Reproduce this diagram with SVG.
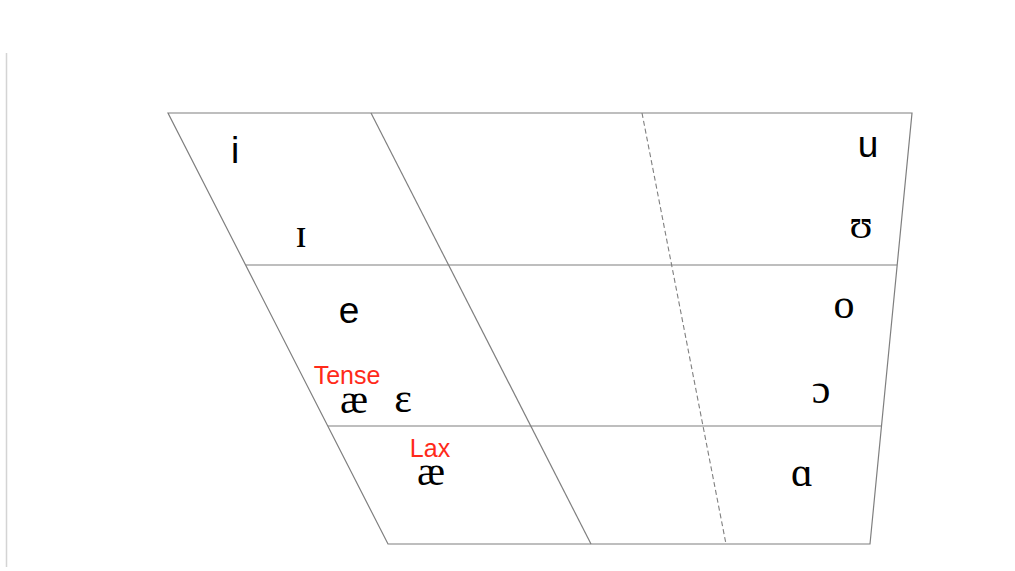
<svg xmlns="http://www.w3.org/2000/svg" width="1015" height="571" viewBox="0 0 1015 571">
<style>
.ln{stroke:#7f7f7f;stroke-width:1.2;fill:none}
.dash{stroke:#7f7f7f;stroke-width:1.1;fill:none;stroke-dasharray:5,3}
.s{font-family:"Liberation Sans",Arial,sans-serif;font-size:37px;fill:#000;text-anchor:middle}
.r{font-family:"Liberation Serif","Times New Roman",serif;font-size:42px;fill:#000;text-anchor:middle}
.red{font-family:"Liberation Sans",Arial,sans-serif;font-size:25px;fill:#ff2a1a;text-anchor:middle}
</style>
<rect width="1015" height="571" fill="#fff"/>
<line x1="6.5" y1="53" x2="6.5" y2="567" stroke="#d4d4d4" stroke-width="1.5"/>
<g id="connectors">
<polygon class="ln" points="168,113 912,113 870,544 388,544"/>
<line class="ln" x1="246" y1="265" x2="897" y2="265"/>
<line class="ln" x1="328" y1="426" x2="881" y2="426"/>
<line class="ln" x1="371" y1="113" x2="591" y2="544"/>
<line class="dash" x1="642" y1="113" x2="726" y2="544"/>
</g>
<g id="v-i"><text class="s" x="235" y="163">i</text></g>
<g id="v-I"><text class="r" x="301" y="247">ɪ</text></g>
<g id="v-u"><text class="s" x="868" y="157">u</text></g>
<g id="v-U"><text class="r" x="861" y="238">ʊ</text></g>
<g id="v-e"><text class="s" x="349" y="323">e</text></g>
<g id="v-o"><text class="r" x="844" y="318">o</text></g>
<g id="v-open-o"><text class="r" x="821" y="403">ɔ</text></g>
<g id="v-a"><text class="r" x="802" y="486">ɑ</text></g>
<g id="tense"><text class="red" x="347" y="384">Tense</text><text class="r" x="354" y="413">æ</text></g>
<g id="v-E"><text class="r" x="403" y="412">ɛ</text></g>
<g id="lax"><text class="red" x="430" y="457">Lax</text><text class="r" x="431" y="485">æ</text></g>
</svg>
